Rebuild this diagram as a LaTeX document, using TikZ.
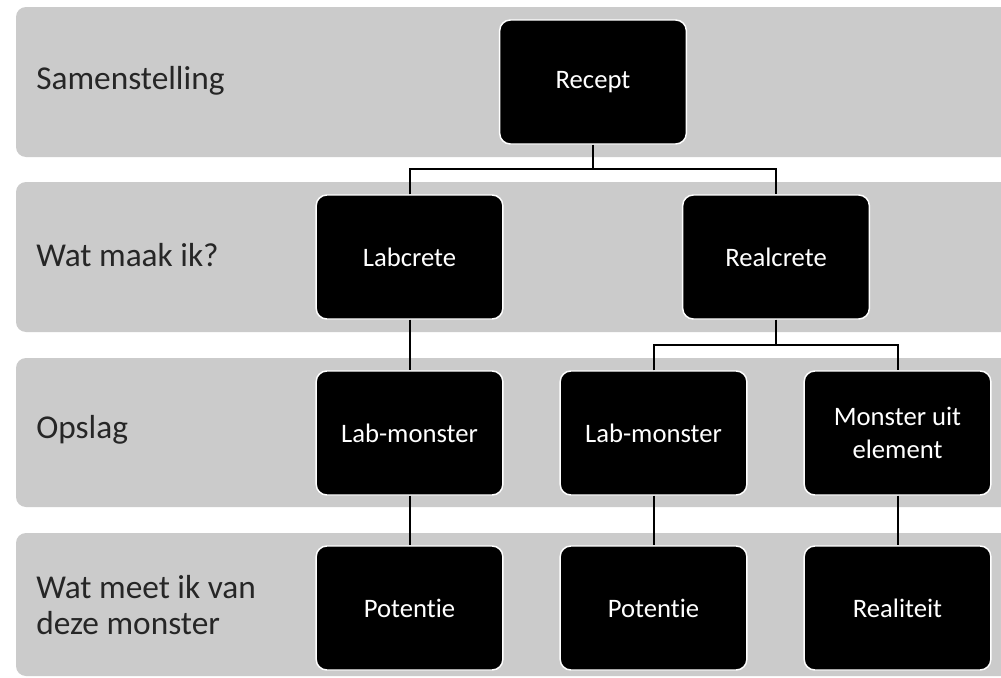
\documentclass[tikz,border=0pt]{standalone}
\usepackage{fontspec}
\setmainfont{Carlito}[Ligatures=NoCommon]
\usepackage{tikz}

\definecolor{bandgray}{HTML}{CBCBCB}
\definecolor{leveltext}{HTML}{262626}

\tikzset{
  band/.style={fill=bandgray, rounded corners=7.5pt},
  level/.style={anchor=west, inner sep=0pt, text=leveltext, align=left, font=\fontsize{25}{27}\selectfont},
  box/.style={draw=white, line width=1.1pt, fill=black, rounded corners=8pt, minimum width=140pt, minimum height=93pt, inner sep=0pt, text=white, align=center, font=\fontsize{20}{25}\selectfont},
  link/.style={line width=1.5pt}
}

\begin{document}
\begin{tikzpicture}[x=0.75pt,y=0.75pt,yscale=-1,xscale=1]

            \clip (0,0) rectangle (1001,678);

            % Bands
            \fill[white] (0,0) rectangle (1001,678);
            \fill[band] (16,7) rectangle (1040,157);
            \fill[band] (16,182) rectangle (1040,332);
            \fill[band] (16,358) rectangle (1040,507);
            \fill[band] (16,533) rectangle (1040,676);

            % Labels
            \node[level] (samenstelling) at (36,81) {Samenstelling};
            \node[level] (watmaak) at (36,255) {Wat maak ik?};
            \node[level] (opslag) at (36,430) {Opslag};
            \node[level] (watmeet) at (36,605) {Wat meet ik van\\deze monster};

            % Boxes
            \node[box] (recept) at (593,82) {Recept};
            \node[box] (labcrete) at (409.5,257) {Labcrete};
            \node[box] (realcrete) at (776,257) {Realcrete};
            \node[box] (labmonsterA) at (409.5,433) {Lab-monster};
            \node[box] (labmonsterB) at (653.5,433) {Lab-monster};
            \node[box] (monsteruit) at (897.5,433) {Monster uit\\element};
            \node[box] (potentieA) at (409.5,608) {Potentie};
            \node[box] (potentieB) at (653.5,608) {Potentie};
            \node[box] (realiteit) at (897.5,608) {Realiteit};

            % Lines
            \coordinate (splitA) at (593,169);
            \coordinate (splitB) at (776,345);
            \draw[link] (recept.south) -- (splitA);
            \draw[link] (labcrete.north) |- (splitA) -| (realcrete.north);
            \draw[link] (labcrete.south) -- (labmonsterA.north);
            \draw[link] (realcrete.south) -- (splitB);
            \draw[link] (labmonsterB.north) |- (splitB) -| (monsteruit.north);
            \draw[link] (labmonsterA.south) -- (potentieA.north);
            \draw[link] (labmonsterB.south) -- (potentieB.north);
            \draw[link] (monsteruit.south) -- (realiteit.north);

\end{tikzpicture}
\end{document}
